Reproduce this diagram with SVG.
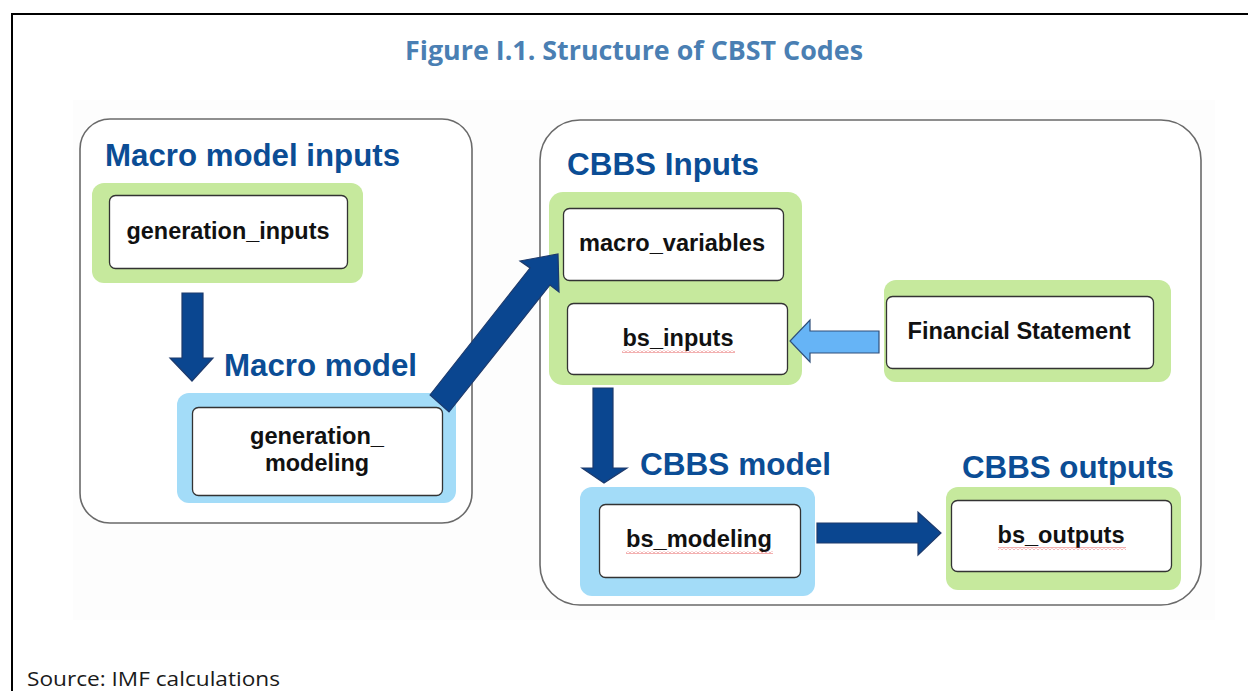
<svg xmlns="http://www.w3.org/2000/svg" width="1248" height="691" viewBox="0 0 1248 691">
  <style>
    .panel { fill: #ffffff; stroke: #6a6a6a; stroke-width: 1.6; }
    .green { fill: #c6e99d; }
    .blue { fill: #a3dcf8; }
    .box { fill: #ffffff; stroke: #333333; stroke-width: 1.3; }
    .head { font-family: "Liberation Sans", Arial, sans-serif; font-weight: bold; font-size: 32px; fill: #0b4d95; }
    .lbl { font-family: "Liberation Sans", Arial, sans-serif; font-weight: bold; font-size: 23px; fill: #111111; text-anchor: middle; }
    .arrow { fill: #0a4690; stroke: #1d3a6c; stroke-width: 1.2; stroke-linejoin: miter; }
    .arrowLight { fill: #66b4f6; stroke: #2f4f7a; stroke-width: 1.2; }
  </style>
  <defs>
    <pattern id="squig" width="4" height="3" patternUnits="userSpaceOnUse">
      <path d="M0,2.5 L2,0.5 L4,2.5" fill="none" stroke="#e03a3a" stroke-width="0.8"/>
    </pattern>
  </defs>

  <rect width="1248" height="691" fill="#ffffff"/>
  <!-- frame -->
  <path d="M12,691 V14 H1248" fill="none" stroke="#000000" stroke-width="2"/>

  <text x="634" y="60" text-anchor="middle" font-family="'Open Sans', 'Liberation Sans', sans-serif" font-weight="bold" font-size="27" fill="#4a7fb3" textLength="458" lengthAdjust="spacingAndGlyphs">Figure I.1. Structure of CBST Codes</text>

  <!-- image background -->
  <rect x="73" y="100" width="1142" height="520" fill="#fdfdfd"/>

  <!-- left panel -->
  <g id="panel-macro">
    <rect class="panel" x="80" y="119" width="392" height="404" rx="30" ry="30"/>
    <text class="head" x="105" y="166" textLength="295" lengthAdjust="spacingAndGlyphs">Macro model inputs</text>
  </g>

  <g id="node-generation-inputs">
    <rect class="green" x="92" y="183" width="271" height="100" rx="12"/>
    <rect class="box" x="109.5" y="195.5" width="238" height="73" rx="6"/>
    <text class="lbl" x="228" y="239" textLength="203" lengthAdjust="spacingAndGlyphs">generation_inputs</text>
  </g>

  <g id="label-macro-model">
    <text class="head" x="224" y="376" textLength="193" lengthAdjust="spacingAndGlyphs">Macro model</text>
  </g>

  <g id="node-generation-modeling">
    <rect class="blue" x="177" y="393" width="279" height="110" rx="12"/>
    <rect class="box" x="192.5" y="407.5" width="250" height="88" rx="6"/>
    <text class="lbl" x="317" y="444" textLength="134" lengthAdjust="spacingAndGlyphs">generation_</text>
    <text class="lbl" x="317" y="471" textLength="104" lengthAdjust="spacingAndGlyphs">modeling</text>
  </g>

  <!-- right panel -->
  <g id="panel-cbbs">
    <rect class="panel" x="540" y="120" width="661" height="485" rx="40" ry="40"/>
    <text class="head" x="567" y="175" textLength="192" lengthAdjust="spacingAndGlyphs">CBBS Inputs</text>
  </g>

  <g id="node-cbbs-inputs">
    <rect class="green" x="549" y="192" width="253" height="193" rx="14"/>
  </g>

  <g id="node-macro-variables">
    <rect class="box" x="563.5" y="208.5" width="220" height="72" rx="6"/>
    <text class="lbl" x="672" y="251" textLength="186" lengthAdjust="spacingAndGlyphs">macro_variables</text>
  </g>

  <g id="node-bs-inputs">
    <rect class="box" x="567.5" y="303.5" width="220" height="71" rx="6"/>
    <text class="lbl" x="678" y="346" textLength="111" lengthAdjust="spacingAndGlyphs">bs_inputs</text>
    <rect x="622" y="350" width="113" height="3" fill="url(#squig)"/>
  </g>

  <g id="node-financial-statement">
    <rect class="green" x="884" y="280" width="287" height="102" rx="12"/>
    <rect class="box" x="886.5" y="296.5" width="267" height="72" rx="6"/>
    <text class="lbl" x="1019" y="339" textLength="223" lengthAdjust="spacingAndGlyphs">Financial Statement</text>
  </g>

  <g id="label-cbbs-model">
    <text class="head" x="640" y="475" textLength="191" lengthAdjust="spacingAndGlyphs">CBBS model</text>
  </g>

  <g id="node-bs-modeling">
    <rect class="blue" x="580" y="487" width="235" height="109" rx="12"/>
    <rect class="box" x="599.5" y="504.5" width="201" height="73" rx="6"/>
    <text class="lbl" x="699" y="547" textLength="146" lengthAdjust="spacingAndGlyphs">bs_modeling</text>
    <rect x="626" y="551" width="147" height="3" fill="url(#squig)"/>
  </g>

  <g id="label-cbbs-outputs">
    <text class="head" x="962" y="478" textLength="212" lengthAdjust="spacingAndGlyphs">CBBS outputs</text>
  </g>

  <g id="node-bs-outputs">
    <rect class="green" x="946" y="487" width="235" height="103" rx="12"/>
    <rect class="box" x="951.5" y="500.5" width="220" height="71" rx="6"/>
    <text class="lbl" x="1061" y="543" textLength="127" lengthAdjust="spacingAndGlyphs">bs_outputs</text>
    <rect x="998" y="547" width="128" height="3" fill="url(#squig)"/>
  </g>

  <!-- connectors -->
  <g id="connectors">
    <polygon class="arrow" points="182,293 203,293 203,358 213,358 192,381 170,358 182,358"/>
    <polygon class="arrow" points="430,395 530,268 520,261 558,254 559,292 550,285 449,412"/>
    <polygon class="arrowLight" points="879,331 879,353 810,353 810,362 790,341 810,320 810,331"/>
    <polygon class="arrow" points="593,388 613,388 613,468 627,468 604,483 582,468 593,468"/>
    <polygon class="arrow" points="817,523 918,523 918,512 941,533 918,555 918,543 817,543"/>
  </g>

  <text x="27" y="686" font-family="'Open Sans', 'Liberation Sans', sans-serif" font-size="20" fill="#1a1a1a" textLength="253" lengthAdjust="spacingAndGlyphs">Source: IMF calculations</text>
</svg>
